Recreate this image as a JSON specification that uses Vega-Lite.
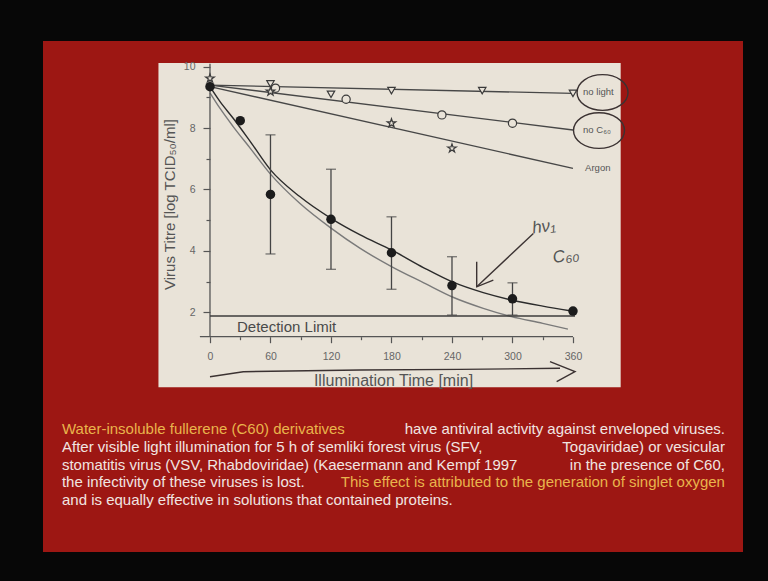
{
  "$schema": "https://vega.github.io/schema/vega-lite/v6.json",
  "width": 700,
  "height": 511,
  "autosize": {"type": "none"},
  "padding": {"left": 43, "top": 41, "right": 25, "bottom": 29},
  "background": "#070707",
  "config": {"view": {"fill": "#9d1713", "stroke": null}, "font": "Liberation Sans"},
  "datasets": {
    "one": [{"k": 1}],
    "obs": [
      {"s": "C60", "t": 0, "v": 9.35},
      {"s": "C60", "t": 30, "v": 8.24},
      {"s": "C60", "t": 60, "v": 5.84, "lo": 3.9, "hi": 7.78},
      {"s": "C60", "t": 120, "v": 5.03, "lo": 3.4, "hi": 6.66},
      {"s": "C60", "t": 180, "v": 3.94, "lo": 2.75, "hi": 5.11},
      {"s": "C60", "t": 240, "v": 2.87, "lo": 1.91, "hi": 3.81},
      {"s": "C60", "t": 300, "v": 2.44, "lo": 1.91, "hi": 2.96},
      {"s": "C60", "t": 360, "v": 2.04},
      {"s": "no light", "t": 60, "v": 9.44},
      {"s": "no light", "t": 120, "v": 9.1},
      {"s": "no light", "t": 180, "v": 9.22},
      {"s": "no light", "t": 270, "v": 9.22},
      {"s": "no light", "t": 360, "v": 9.13},
      {"s": "no C60", "t": 65, "v": 9.3},
      {"s": "no C60", "t": 135, "v": 8.94},
      {"s": "no C60", "t": 230, "v": 8.43},
      {"s": "no C60", "t": 300, "v": 8.16},
      {"s": "Argon", "t": 0, "v": 9.62},
      {"s": "Argon", "t": 60, "v": 9.19},
      {"s": "Argon", "t": 180, "v": 8.16},
      {"s": "Argon", "t": 240, "v": 7.34}
    ],
    "fit": [
      {"s": "no light", "t": 0, "v": 9.4},
      {"s": "no light", "t": 360, "v": 9.13},
      {"s": "no C60", "t": 0, "v": 9.4},
      {"s": "no C60", "t": 360, "v": 7.94},
      {"s": "Argon", "t": 0, "v": 9.35},
      {"s": "Argon", "t": 360, "v": 6.69},
      {"s": "C60 fit", "t": 0, "v": 9.35},
      {"s": "C60 fit", "t": 10, "v": 8.86},
      {"s": "C60 fit", "t": 23, "v": 8.32},
      {"s": "C60 fit", "t": 40, "v": 7.56},
      {"s": "C60 fit", "t": 60, "v": 6.64},
      {"s": "C60 fit", "t": 89, "v": 5.77},
      {"s": "C60 fit", "t": 120, "v": 5.06},
      {"s": "C60 fit", "t": 149, "v": 4.52},
      {"s": "C60 fit", "t": 180, "v": 4.03},
      {"s": "C60 fit", "t": 212, "v": 3.45},
      {"s": "C60 fit", "t": 241, "v": 2.98},
      {"s": "C60 fit", "t": 271, "v": 2.64},
      {"s": "C60 fit", "t": 299, "v": 2.4},
      {"s": "C60 fit", "t": 330, "v": 2.2},
      {"s": "C60 fit", "t": 357, "v": 2.05},
      {"s": "C60 fit 2", "t": 0, "v": 9.15},
      {"s": "C60 fit 2", "t": 10, "v": 8.64},
      {"s": "C60 fit 2", "t": 23, "v": 8.05},
      {"s": "C60 fit 2", "t": 40, "v": 7.34},
      {"s": "C60 fit 2", "t": 60, "v": 6.5},
      {"s": "C60 fit 2", "t": 89, "v": 5.55},
      {"s": "C60 fit 2", "t": 120, "v": 4.74},
      {"s": "C60 fit 2", "t": 149, "v": 4.08},
      {"s": "C60 fit 2", "t": 180, "v": 3.49},
      {"s": "C60 fit 2", "t": 212, "v": 2.96},
      {"s": "C60 fit 2", "t": 241, "v": 2.49},
      {"s": "C60 fit 2", "t": 271, "v": 2.13},
      {"s": "C60 fit 2", "t": 299, "v": 1.86},
      {"s": "C60 fit 2", "t": 330, "v": 1.64},
      {"s": "C60 fit 2", "t": 355, "v": 1.45}
    ],
    "labels": [
      {"txt": "no light", "t": 370, "v": 9.18},
      {"txt": "no C₆₀", "t": 370, "v": 7.94},
      {"txt": "Argon", "t": 372, "v": 6.7}
    ],
    "detect": [{"txt": "Detection Limit", "t": 26.8, "v": 1.52}],
    "ink": [
      {"g": "swoosh", "o": 1, "t": 0, "v": -0.1},
      {"g": "swoosh", "o": 2, "t": 33, "v": 0.065},
      {"g": "swoosh", "o": 3, "t": 148.8, "v": 0.12},
      {"g": "swoosh", "o": 4, "t": 247.9, "v": 0.14},
      {"g": "swoosh", "o": 5, "t": 347.1, "v": 0.176},
      {"g": "head", "o": 1, "t": 337.2, "v": 0.39},
      {"g": "head", "o": 2, "t": 362, "v": 0.065},
      {"g": "head", "o": 3, "t": 343.8, "v": -0.26},
      {"g": "arrow", "o": 1, "t": 320.7, "v": 4.57},
      {"g": "arrow", "o": 2, "t": 264.5, "v": 2.83},
      {"g": "arrowhead", "o": 1, "t": 264.5, "v": 3.65},
      {"g": "arrowhead", "o": 2, "t": 264.5, "v": 2.83},
      {"g": "arrowhead", "o": 3, "t": 281, "v": 3.05}
    ],
    "rings": [
      {"ring": "no light", "t": 389.3, "v": 9.16},
      {"ring": "no C60", "t": 385.8, "v": 7.92}
    ],
    "notes": [
      {"txt": "hν₁", "t": 331, "v": 4.78},
      {"txt": "C₆₀", "t": 353, "v": 3.83}
    ],
    "para": [
      {"block": "A", "txt": "Water-insoluble fullerene (C60) derivatives"},
      {"block": "B", "txt": ["After visible light illumination for 5 h of semliki forest virus (SFV,", "stomatitis virus (VSV, Rhabdoviridae) (Kaesermann and Kempf 1997", "the infectivity of these viruses is lost.", "and is equally effective in solutions that contained proteins."]},
      {"block": "C", "txt": ["have antiviral activity against enveloped viruses.", "Togaviridae) or vesicular", "in the presence of C60,"]},
      {"block": "D", "txt": "This effect is attributed to the generation of singlet oxygen"}
    ]
  },
  "layer": [
    {
      "data": {"name": "one"},
      "mark": {"type": "rect", "fill": "#e9e3d8"},
      "encoding": {
        "x": {"datum": -51.1, "type": "quantitative"},
        "x2": {"datum": 407.3},
        "y": {"datum": 10.12, "type": "quantitative"},
        "y2": {"datum": -0.443}
      }
    },
    {
      "data": {"name": "fit"},
      "mark": {"type": "line", "interpolate": "monotone"},
      "encoding": {
        "x": {
          "field": "t", "type": "quantitative",
          "scale": {"domain": [-165.6, 528.6], "nice": false, "zero": false},
          "axis": {
            "zindex": 1,
            "values": [0, 30, 60, 90, 120, 150, 180, 210, 240, 270, 300, 330, 360],
            "offset": -215.3, "domain": false, "grid": false,
            "tickColor": "#555", "tickWidth": 1.2,
            "tickSize": {"condition": {"test": "datum.value % 60 === 0", "value": 6}, "value": 3},
            "labelExpr": "datum.value % 60 === 0 ? datum.label : ''",
            "labelFontSize": 10.5, "labelColor": "#666", "labelPadding": 9,
            "title": "Illumination Time [min]", "titleFontSize": 16, "titleFontWeight": "normal",
            "titleColor": "#555", "titleX": 350, "titleY": 43.3,
            "titleAlign": "center", "titleBaseline": "middle"
          }
        },
        "y": {
          "field": "v", "type": "quantitative",
          "scale": {"domain": [-5.808, 10.837], "nice": false, "zero": false},
          "axis": {
            "zindex": 1,
            "values": [2, 3, 4, 5, 6, 7, 8, 9, 10],
            "offset": -167, "domain": false, "grid": false,
            "tickColor": "#555", "tickWidth": 1.2,
            "tickSize": {"condition": {"test": "datum.value % 2 === 0", "value": 7}, "value": 4},
            "labelExpr": "datum.value % 2 === 0 ? datum.label : ''",
            "labelFontSize": 10.5, "labelColor": "#666", "labelPadding": 8,
            "title": "Virus Titre [log TCID₅₀/ml]", "titleFontSize": 15, "titleFontWeight": "normal",
            "titleColor": "#555", "titleX": -41, "titleY": 163, "titleAngle": 270,
            "titleAlign": "center", "titleBaseline": "middle"
          }
        },
        "detail": {"field": "s"},
        "color": {"field": "s", "type": "nominal", "legend": null,
          "scale": {"domain": ["no light", "no C60", "Argon", "C60 fit", "C60 fit 2"], "range": ["#474747", "#474747", "#474747", "#2b2b2b", "#7a7a7a"]}},
        "strokeWidth": {"field": "s", "type": "nominal", "legend": null,
          "scale": {"domain": ["no light", "no C60", "Argon", "C60 fit", "C60 fit 2"], "range": [1.4, 1.4, 1.4, 1.9, 1.4]}}
      }
    },
    {
      "data": {"name": "one"},
      "mark": {"type": "rule", "color": "#555", "strokeWidth": 1.3},
      "encoding": {
        "x": {"datum": 0, "type": "quantitative"},
        "y": {"datum": 1.2, "type": "quantitative"},
        "y2": {"datum": 10.1}
      }
    },
    {
      "data": {"name": "one"},
      "mark": {"type": "rule", "color": "#555", "strokeWidth": 1.3},
      "encoding": {
        "x": {"datum": -10, "type": "quantitative"},
        "x2": {"datum": 360},
        "y": {"datum": 1.205, "type": "quantitative"}
      }
    },
    {
      "data": {"name": "one"},
      "mark": {"type": "rule", "color": "#3d3d3d", "strokeWidth": 1.4},
      "encoding": {
        "x": {"datum": 0, "type": "quantitative"},
        "x2": {"datum": 362},
        "y": {"datum": 1.88, "type": "quantitative"}
      }
    },
    {
      "data": {"name": "obs"},
      "transform": [{"filter": "isValid(datum.lo)"}],
      "mark": {"type": "rule", "color": "#444", "strokeWidth": 1.3},
      "encoding": {
        "x": {"field": "t", "type": "quantitative"},
        "y": {"field": "lo", "type": "quantitative"},
        "y2": {"field": "hi"}
      }
    },
    {
      "data": {"name": "obs"},
      "transform": [{"filter": "isValid(datum.lo)"}],
      "mark": {"type": "tick", "orient": "horizontal", "color": "#444", "size": 10, "thickness": 1.3},
      "encoding": {
        "x": {"field": "t", "type": "quantitative"},
        "y": {"field": "lo", "type": "quantitative"}
      }
    },
    {
      "data": {"name": "obs"},
      "transform": [{"filter": "isValid(datum.hi)"}],
      "mark": {"type": "tick", "orient": "horizontal", "color": "#444", "size": 10, "thickness": 1.3},
      "encoding": {
        "x": {"field": "t", "type": "quantitative"},
        "y": {"field": "hi", "type": "quantitative"}
      }
    },
    {
      "data": {"name": "obs"},
      "transform": [{"filter": "datum.s !== 'C60'"}],
      "mark": {"type": "point", "filled": true, "fill": "#e9e3d8", "stroke": "#3a3a3a", "strokeWidth": 1.2, "opacity": 1},
      "encoding": {
        "x": {"field": "t", "type": "quantitative"},
        "y": {"field": "v", "type": "quantitative"},
        "shape": {"field": "s", "type": "nominal", "legend": null,
          "scale": {"domain": ["no light", "no C60", "Argon"], "range": ["triangle-down", "circle", "M0,-1L0.2245,-0.309L0.9511,-0.309L0.3633,0.118L0.5878,0.809L0,0.382L-0.5878,0.809L-0.3633,0.118L-0.9511,-0.309L-0.2245,-0.309Z"]}},
        "size": {"field": "s", "type": "nominal", "legend": null,
          "scale": {"domain": ["no light", "no C60", "Argon"], "range": [55, 80, 75]}}
      }
    },
    {
      "data": {"name": "obs"},
      "transform": [{"filter": "datum.s === 'C60'"}],
      "mark": {"type": "point", "filled": true, "color": "#1c1c1c", "size": 90, "opacity": 1},
      "encoding": {
        "x": {"field": "t", "type": "quantitative"},
        "y": {"field": "v", "type": "quantitative"}
      }
    },
    {
      "data": {"name": "labels"},
      "mark": {"type": "text", "align": "left", "baseline": "middle", "fontSize": 9.5, "color": "#555"},
      "encoding": {
        "x": {"field": "t", "type": "quantitative"},
        "y": {"field": "v", "type": "quantitative"},
        "text": {"field": "txt"}
      }
    },
    {
      "data": {"name": "detect"},
      "mark": {"type": "text", "align": "left", "baseline": "middle", "fontSize": 15, "color": "#4a4a4a"},
      "encoding": {
        "x": {"field": "t", "type": "quantitative"},
        "y": {"field": "v", "type": "quantitative"},
        "text": {"field": "txt"}
      }
    },
    {
      "data": {"name": "ink"},
      "mark": {"type": "line", "color": "#3b3232", "strokeWidth": 1.4},
      "encoding": {
        "x": {"field": "t", "type": "quantitative"},
        "y": {"field": "v", "type": "quantitative"},
        "detail": {"field": "g"},
        "order": {"field": "o"}
      }
    },
    {
      "data": {"name": "rings"},
      "mark": {"type": "point", "filled": false, "stroke": "#3b3232", "strokeWidth": 1.4, "size": 2600, "opacity": 1,
        "shape": "M-1,0C-1,-0.39,-0.55,-0.7,0,-0.7C0.55,-0.7,1,-0.39,1,0C1,0.39,0.55,0.7,0,0.7C-0.55,0.7,-1,0.39,-1,0Z"},
      "encoding": {
        "x": {"field": "t", "type": "quantitative"},
        "y": {"field": "v", "type": "quantitative"}
      }
    },
    {
      "data": {"name": "notes"},
      "mark": {"type": "text", "align": "center", "baseline": "middle", "fontSize": 17, "fontStyle": "italic", "color": "#555", "angle": -8},
      "encoding": {
        "x": {"field": "t", "type": "quantitative"},
        "y": {"field": "v", "type": "quantitative"},
        "text": {"field": "txt"}
      }
    },
    {
      "data": {"name": "para"},
      "transform": [{"filter": "datum.block === 'A'"}],
      "mark": {"type": "text", "align": "left", "baseline": "alphabetic", "fontSize": 15, "color": "#e9b44c"},
      "encoding": {
        "x": {"datum": -146.8, "type": "quantitative"},
        "y": {"datum": -1.974, "type": "quantitative"},
        "text": {"field": "txt"}
      }
    },
    {
      "data": {"name": "para"},
      "transform": [{"filter": "datum.block === 'B'"}],
      "mark": {"type": "text", "align": "left", "baseline": "alphabetic", "fontSize": 15, "lineHeight": 17.85, "color": "#f1e5e1"},
      "encoding": {
        "x": {"datum": -146.8, "type": "quantitative"},
        "y": {"datum": -2.541, "type": "quantitative"},
        "text": {"field": "txt"}
      }
    },
    {
      "data": {"name": "para"},
      "transform": [{"filter": "datum.block === 'C'"}],
      "mark": {"type": "text", "align": "right", "baseline": "alphabetic", "fontSize": 15, "lineHeight": 17.85, "color": "#f1e5e1"},
      "encoding": {
        "x": {"datum": 510.7, "type": "quantitative"},
        "y": {"datum": -1.974, "type": "quantitative"},
        "text": {"field": "txt"}
      }
    },
    {
      "data": {"name": "para"},
      "transform": [{"filter": "datum.block === 'D'"}],
      "mark": {"type": "text", "align": "right", "baseline": "alphabetic", "fontSize": 15, "color": "#e9b44c"},
      "encoding": {
        "x": {"datum": 510.7, "type": "quantitative"},
        "y": {"datum": -3.7, "type": "quantitative"},
        "text": {"field": "txt"}
      }
    }
  ]
}
